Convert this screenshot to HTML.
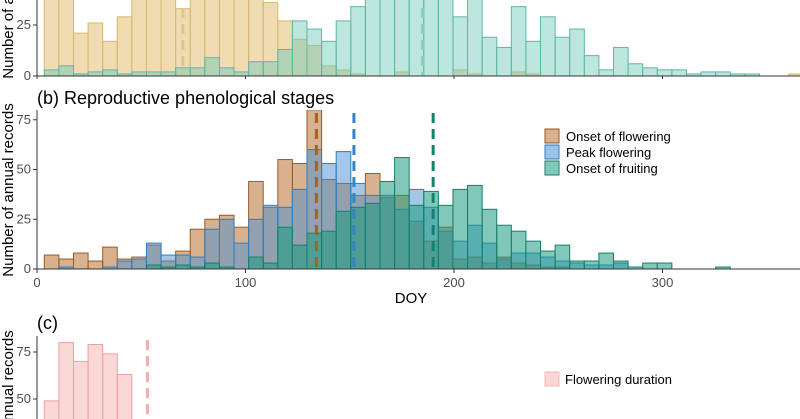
<!DOCTYPE html>
<html><head><meta charset="utf-8">
<style>
html,body{margin:0;padding:0;background:#fff;width:800px;height:419px;overflow:hidden}
svg{display:block;font-family:"Liberation Sans",sans-serif}
</style></head>
<body>
<svg id="c" width="800" height="419">
<defs>
<clipPath id="clipA"><rect x="37" y="0" width="763" height="76"/></clipPath>
<clipPath id="clipB"><rect x="37" y="110" width="763" height="160"/></clipPath>
<clipPath id="clipPage"><rect x="0" y="0" width="800" height="419"/></clipPath>
</defs>
</svg>
<script>
// shared bins: bin k covers DOY [3.5+7k, 10.5+7k]
const binWidth = 7;
const binOffset = 3.5;
// panel (a)
const seasonA = [45,45,21,26,17,29,45,45,45,33,45,45,45,45,45,36,27,18,15,5,3,1,0,0,2,0,0,0,3,1,0,0,2,1,0,0,0,0,0,0,0,0,0,0,0,0,0,0,0,0,0,1];
const seasonB = [3,5,1,2,3,1,2,2,2,4,4,9,4,2,7,7,13,27,23,17,27,34,45,45,45,45,45,45,29,45,19,14,34,17,29,19,23,10,3,14,6,4,3,3,1,2,2,1,1];
const meansA = [70,185];
// panel (b)
const onsetFlowering = [7,5,8,4,11,5,6,12,4,9,20,25,27,21,44,31,55,53,80,45,43,37,48,36,37,24,14,21,5,6,3,6,3,2,1,1,0,0,0,0,0,0,0];
const peakFlowering = [0,1,0,0,1,4,5,13,7,7,6,20,25,13,25,32,31,40,60,53,59,43,37,37,30,40,31,19,14,22,13,5,8,8,6,4,3,2,2,3,0,0,0];
const onsetFruiting = [0,0,0,0,0,0,0,2,1,2,1,3,1,0,6,3,21,12,18,19,29,31,33,44,56,32,39,32,40,42,30,22,19,14,9,12,4,4,8,4,1,3,3,0,0,0,1];
const meansB = [134,152,190];
// panel (c)
const duration = [49,80,70,79,74,63];
const meanC = [53];
const xTicks = [0,100,200,300];
const yTicksA = [0,25];
const yTicksB = [0,25,50,75];
const yTicksC = [50,75];

const NS="http://www.w3.org/2000/svg";
const svg=document.getElementById('c');
const root=document.createElementNS(NS,'g');
root.setAttribute('clip-path','url(#clipPage)');


svg.appendChild(root);
function x(d){return 37+d*2.085;}
function yA(v){return 76-v*2.04;}
function yB(v){return 269-v*1.99;}
function yC(v){return 399+(50-v)*1.88;}
function mk(tag,attrs,parent){const e=document.createElementNS(NS,tag);for(const k in attrs)e.setAttribute(k,attrs[k]);(parent||root).appendChild(e);return e;}

function bars(vals,yf,fill,stroke,op,clip,name){
  const g=mk('g',clip?{'clip-path':'url(#'+clip+')'}:{});
  
  
  vals.forEach((v,k)=>{
    if(v<=0)return;
    const x0=x(binOffset+k*binWidth), x1=x(binOffset+(k+1)*binWidth);
    const r=mk('rect',{x:x0,y:yf(v),width:x1-x0,height:yf(0)-yf(v),fill:fill,'fill-opacity':op,stroke:stroke,'stroke-width':1},g);
    
    
  });
}
function vline(d,y0,y1,color,name){
  const l=mk('line',{x1:x(d),x2:x(d),y1:y0,y2:y1,stroke:color,'stroke-width':3,'stroke-dasharray':'10,6'});
  
  
}
function txt(s,attrs,name){const t=mk('text',attrs);t.textContent=s;
  
  return t;}

// panel a
bars(seasonA,yA,'#e6c98a','#d9b66c',0.65,'clipA','season-a');
bars(seasonB,yA,'#6cc8b8','#5bb8a7',0.45,'clipA','season-b');
vline(meansA[0],8,76,'#e3c488','mean-line-a1');
vline(meansA[1],8,76,'#7dcfc1','mean-line-a2');
mk('line',{x1:37,x2:800,y1:76,y2:76,stroke:'#333','stroke-width':1});
mk('line',{x1:37,x2:37,y1:0,y2:76,stroke:'#333','stroke-width':1});
yTicksA.forEach(v=>{mk('line',{x1:33,x2:37,y1:yA(v),y2:yA(v),stroke:'#333'});txt(v,{x:31,y:yA(v)+4,'text-anchor':'end','font-size':13,fill:'#4d4d4d'},'y-tick-a');});
xTicks.forEach(v=>{mk('line',{x1:x(v),x2:x(v),y1:76,y2:79,stroke:'#333'});});
txt('Number of annual records',{x:0,y:0,transform:'translate(13,-8) rotate(-90)','text-anchor':'middle','font-size':15,fill:'#000'},'y-axis-title-a');

// panel b
txt('(b) Reproductive phenological stages',{x:37,y:104,'font-size':18,fill:'#000'},'panel-b-title');
bars(onsetFlowering,yB,'#b87333','#9a5a22',0.55,'clipB','onset-flowering');
bars(peakFlowering,yB,'#4a90d0','#2f7fc1',0.5,'clipB','peak-flowering');
bars(onsetFruiting,yB,'#1b9a82','#15806b',0.55,'clipB','onset-fruiting');
vline(meansB[0],113,269,'#a8601f','mean-onset-flowering');
vline(meansB[1],113,269,'#2f86c8','mean-peak-flowering');
vline(meansB[2],113,269,'#12826c','mean-onset-fruiting');
mk('line',{x1:37,x2:800,y1:269,y2:269,stroke:'#333','stroke-width':1});
mk('line',{x1:37,x2:37,y1:110,y2:269,stroke:'#333','stroke-width':1});
yTicksB.forEach(v=>{mk('line',{x1:33,x2:37,y1:yB(v),y2:yB(v),stroke:'#333'});txt(v,{x:31,y:yB(v)+4,'text-anchor':'end','font-size':13,fill:'#4d4d4d'},'y-tick-b');});
xTicks.forEach(v=>{mk('line',{x1:x(v),x2:x(v),y1:269,y2:273,stroke:'#333'});txt(v,{x:x(v),y:287,'text-anchor':'middle','font-size':13,fill:'#4d4d4d'},'x-tick-b');});
txt('DOY',{x:411,y:303,'text-anchor':'middle','font-size':15,fill:'#000'},'x-axis-title');
txt('Number of annual records',{x:0,y:0,transform:'translate(13,190) rotate(-90)','text-anchor':'middle','font-size':15,fill:'#000'},'y-axis-title-b');
const leg=[['Onset of flowering','#b87333','#9a5a22'],['Peak flowering','#4a90d0','#2f7fc1'],['Onset of fruiting','#1b9a82','#15806b']];
leg.forEach((l,i)=>{
  const r=mk('rect',{x:545,y:129+i*16,width:14,height:14,fill:l[1],'fill-opacity':0.55,stroke:l[2]});
  
  
  txt(l[0],{x:566,y:141+i*16,'font-size':13,fill:'#000'},'legend-entry');
});

// panel c
txt('(c)',{x:37,y:329,'font-size':18,fill:'#000'},'panel-c-title');
bars(duration,yC,'#f7a8a8','#eea0a0',0.45,null,'flowering-duration');
vline(meanC[0],340,419,'#f2b0b0','mean-duration');
mk('line',{x1:37,x2:37,y1:336,y2:419,stroke:'#333','stroke-width':1});
yTicksC.forEach(v=>{mk('line',{x1:33,x2:37,y1:yC(v),y2:yC(v),stroke:'#333'});txt(v,{x:31,y:yC(v)+4,'text-anchor':'end','font-size':13,fill:'#4d4d4d'},'y-tick-c');});
txt('Number of annual records',{x:0,y:0,transform:'translate(13,417) rotate(-90)','text-anchor':'middle','font-size':15,fill:'#000'},'y-axis-title-c');
const lr=mk('rect',{x:545,y:372,width:14,height:14,fill:'#f7a8a8','fill-opacity':0.45,stroke:'#f2b8b8'});


txt('Flowering duration',{x:565,y:384,'font-size':13,fill:'#000'},'legend-entry-duration');
</script>
</body></html>
